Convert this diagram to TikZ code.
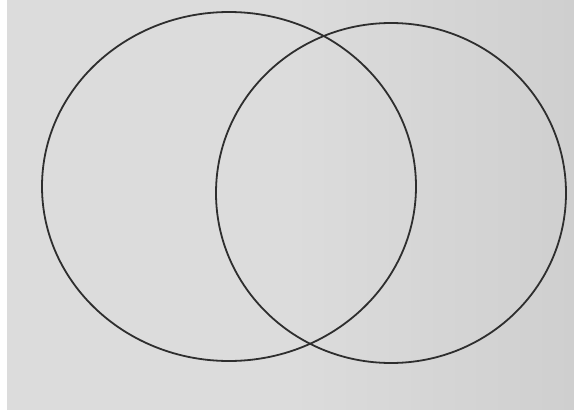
\documentclass[tikz,border=0pt]{standalone}
\definecolor{paper}{HTML}{DCDCDC}
\definecolor{paperdark}{HTML}{CFCFCF}
\definecolor{ink}{HTML}{2E2E2E}
\begin{document}
\begin{tikzpicture}[x=1pt,y=-1pt,
  vennline/.style={draw=ink,line width=1.8pt}]
\useasboundingbox (0,0) rectangle (574,410);
\fill[white] (0,0) rectangle (574,410);
\shade[left color=paper, right color=paperdark, middle color=paper] (7,0) rectangle (574,410);
\coordinate (cl) at (229,186.5);
\coordinate (cr) at (391,193);
\draw[vennline] (cl) ellipse [x radius=187, y radius=174.5];
\draw[vennline] (cr) ellipse [x radius=175, y radius=170];
\end{tikzpicture}
\end{document}
